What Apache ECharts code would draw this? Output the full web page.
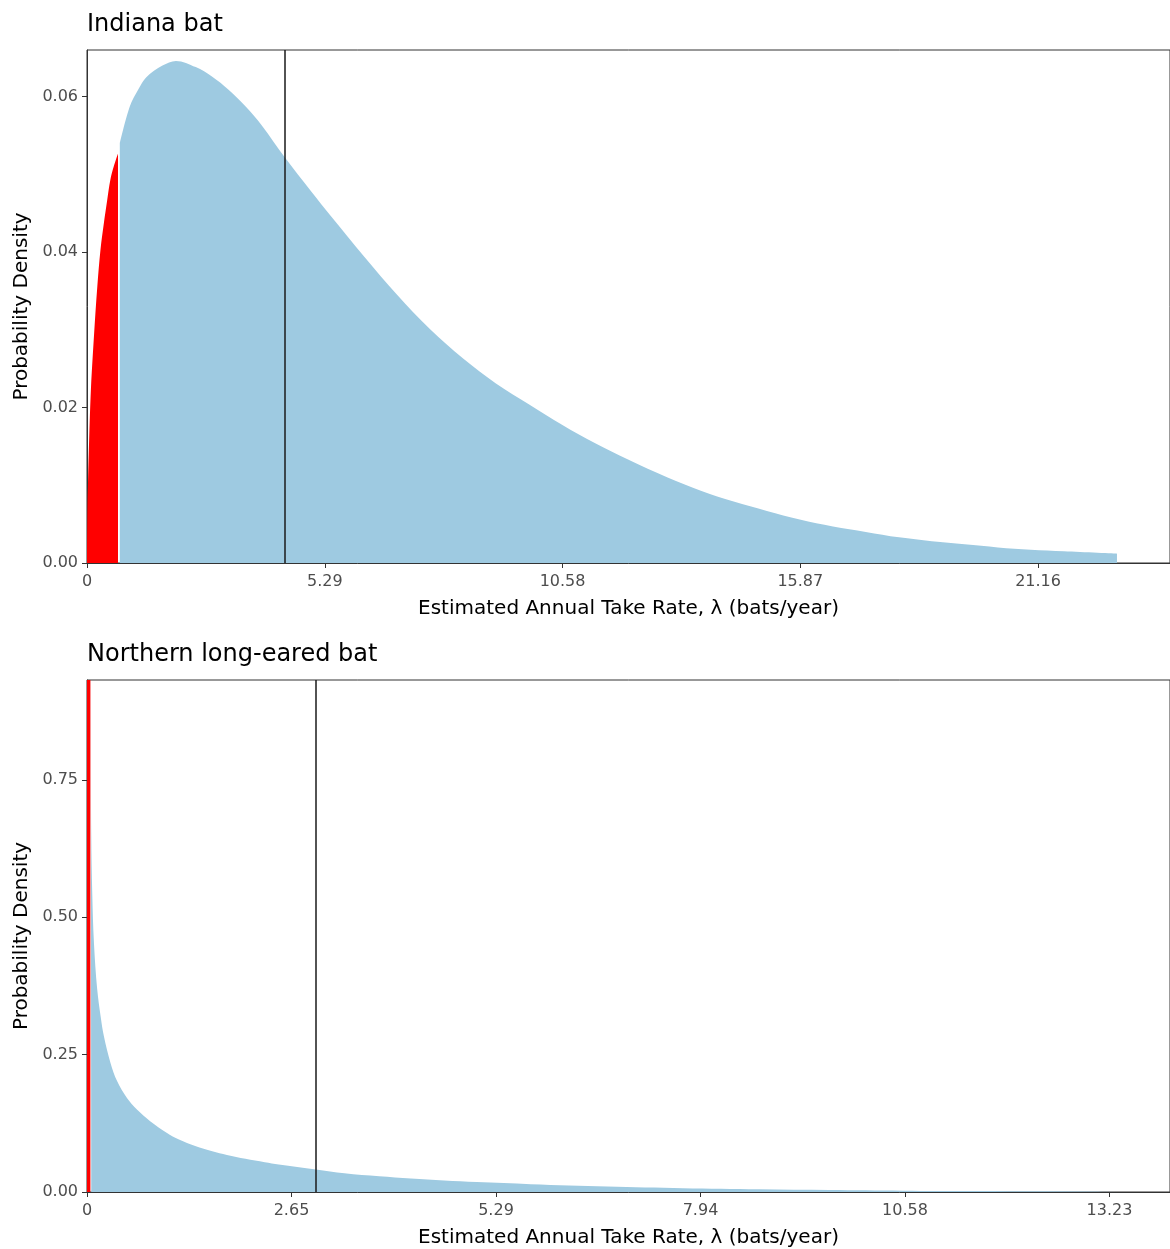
<!DOCTYPE html>
<html>
<head>
<meta charset="utf-8">
<title>Estimated annual take rate</title>
<script src="https://cdn.jsdelivr.net/npm/echarts@6/dist/echarts.min.js"></script>
<style>
html, body { margin: 0; padding: 0; background: #fff; }
#chart { width: 1170px; height: 1249px; }
</style>
</head>
<body>
<div id="chart"></div>
<script>
// panel titles
const panelTitles = ['Indiana bat', 'Northern long-eared bat'];

// Indiana bat: density, red part (lower tail) and blue part
const indRedX = [0, 0.01, 0.022, 0.08, 0.154, 0.23, 0.30, 0.375, 0.45, 0.52, 0.595, 0.69];
const indRedY = [0, 0.0075, 0.0103, 0.0214, 0.0291, 0.0356, 0.0403, 0.0437, 0.0467, 0.0493, 0.0510, 0.0527];
const indBlueX = [0.73, 0.95, 1.15, 1.32, 1.68, 1.98, 2.42, 2.78, 3.15, 3.52, 3.89, 4.40, 4.99, 5.43, 6.17,
  6.90, 7.63, 8.37, 9.10, 9.84, 10.57, 11.31, 12.04, 12.92, 13.66, 14.39, 15.13, 15.86, 16.60, 17.33,
  18.07, 18.80, 19.53, 20.27, 21.00, 21.74, 22.92];
const indBlueY = [0.0540, 0.0587, 0.0610, 0.0625, 0.0640, 0.0646, 0.0638, 0.0626, 0.0609, 0.0588, 0.0563,
  0.0522, 0.0478, 0.0446, 0.0394, 0.0345, 0.0301, 0.0263, 0.0231, 0.0204, 0.0178, 0.0154, 0.0133, 0.0110,
  0.0093, 0.0079, 0.0067, 0.0056, 0.0047, 0.0040, 0.0033, 0.0028, 0.0024, 0.0020, 0.0017, 0.0015, 0.0012];
const indVLine = 4.408;

// Northern long-eared bat
const nlebRedX = [0, 0.02, 0.044];
const nlebRedY = [3.0, 2.0, 1.3];
const nlebBlueX = [0.046, 0.05, 0.055, 0.068, 0.090, 0.132, 0.176, 0.218, 0.304, 0.389, 0.517, 0.646, 0.817,
  1.03, 1.19, 1.40, 1.62, 1.81, 2.05, 2.30, 2.48, 2.96, 3.33, 3.78, 4.19, 4.62, 5.04, 5.74, 6.73, 7.71,
  8.69, 9.60, 10.55, 11.50, 12.40, 13.35];
const nlebBlueY = [1.2, 0.85, 0.647, 0.544, 0.453, 0.369, 0.320, 0.284, 0.235, 0.202, 0.171, 0.150, 0.129,
  0.108, 0.0955, 0.0837, 0.0742, 0.0674, 0.0604, 0.0541, 0.0501, 0.041, 0.034, 0.0285, 0.0245, 0.0210,
  0.0180, 0.0142, 0.0100, 0.0070, 0.0050, 0.0036, 0.0025, 0.0017, 0.0012, 0.0009];
const nlebVLine = 2.955;

// tick positions
const indXTicks = [0, 5.291, 10.582, 15.873, 21.164];
const indYTicks = [0, 0.02, 0.04, 0.06];
const nlebXTicks = [0, 2.6455, 5.291, 7.9365, 10.582, 13.2275];
const nlebYTicks = [0, 0.25, 0.5, 0.75];

const xName = 'Estimated Annual Take Rate, λ (bats/year)';
const yName = 'Probability Density';

const FONT = 'DejaVu Sans';
const BLUE = '#9ecae1';
const RED = '#ff0000';

function zip(xs, ys) {
  return xs.map(function (x, i) { return [x, ys[i]]; });
}

function xAxisFor(gridIndex, max, ticks) {
  return {
    type: 'value', gridIndex: gridIndex, min: 0, max: max,
    name: xName, nameLocation: 'middle', nameGap: 36,
    nameTextStyle: { fontFamily: FONT, fontSize: 20, color: '#000' },
    axisLine: { show: true, lineStyle: { color: '#333', width: 1 } },
    axisTick: { show: true, length: 5, lineStyle: { color: '#333' }, customValues: ticks },
    axisLabel: {
      margin: 11, fontFamily: FONT, fontSize: 16, color: '#4d4d4d', customValues: ticks,
      formatter: function (v) { return v === 0 ? '0' : v.toFixed(2); }
    },
    splitLine: { show: false }
  };
}

function yAxisFor(gridIndex, max, ticks) {
  return {
    type: 'value', gridIndex: gridIndex, min: 0, max: max,
    name: yName, nameLocation: 'middle', nameGap: 55, nameRotate: 90,
    nameTextStyle: { fontFamily: FONT, fontSize: 20, color: '#000' },
    axisLine: { show: true, lineStyle: { color: '#333', width: 1 } },
    axisTick: { show: true, length: 5, lineStyle: { color: '#333' }, customValues: ticks },
    axisLabel: {
      margin: 9, fontFamily: FONT, fontSize: 16, color: '#4d4d4d', customValues: ticks,
      formatter: function (v) { return v.toFixed(2); }
    },
    splitLine: { show: false }
  };
}

function areaSeries(idx, data, color, vline) {
  const s = {
    type: 'line', xAxisIndex: idx, yAxisIndex: idx, data: data,
    symbol: 'none', smooth: 0.35, clip: true,
    lineStyle: { width: 0 },
    areaStyle: { color: color, opacity: 1 },
    silent: true
  };
  if (vline != null) {
    s.markLine = {
      silent: true, symbol: ['none', 'none'], label: { show: false },
      lineStyle: { color: '#1a1a1a', width: 1.5, type: 'solid' },
      data: [{ xAxis: vline }]
    };
  }
  return s;
}

const chart = echarts.init(document.getElementById('chart'));

const option = {
  animation: false,
  backgroundColor: '#fff',
  title: [
    { text: panelTitles[0], left: 82, top: 8,
      textStyle: { fontFamily: FONT, fontSize: 24, fontWeight: 'normal', color: '#000' } },
    { text: panelTitles[1], left: 82, top: 638,
      textStyle: { fontFamily: FONT, fontSize: 24, fontWeight: 'normal', color: '#000' } }
  ],
  grid: [
    { left: 87, top: 50, width: 1092, height: 513, show: true, borderColor: '#333', borderWidth: 1,
      backgroundColor: 'transparent' },
    { left: 87, top: 680, width: 1092, height: 512, show: true, borderColor: '#333', borderWidth: 1,
      backgroundColor: 'transparent' }
  ],
  xAxis: [xAxisFor(0, 24.1, indXTicks), xAxisFor(1, 14.01, nlebXTicks)],
  yAxis: [yAxisFor(0, 0.066, indYTicks), yAxisFor(1, 0.932, nlebYTicks)],
  series: [
    areaSeries(0, zip(indBlueX, indBlueY), BLUE, null),
    areaSeries(0, zip(indRedX, indRedY), RED, indVLine),
    areaSeries(1, zip(nlebBlueX, nlebBlueY), BLUE, null),
    areaSeries(1, zip(nlebRedX, nlebRedY), RED, nlebVLine)
  ]
};

chart.setOption(option);
window.addEventListener('resize', function () {
  chart.resize();
});
</script>
</body>
</html>
